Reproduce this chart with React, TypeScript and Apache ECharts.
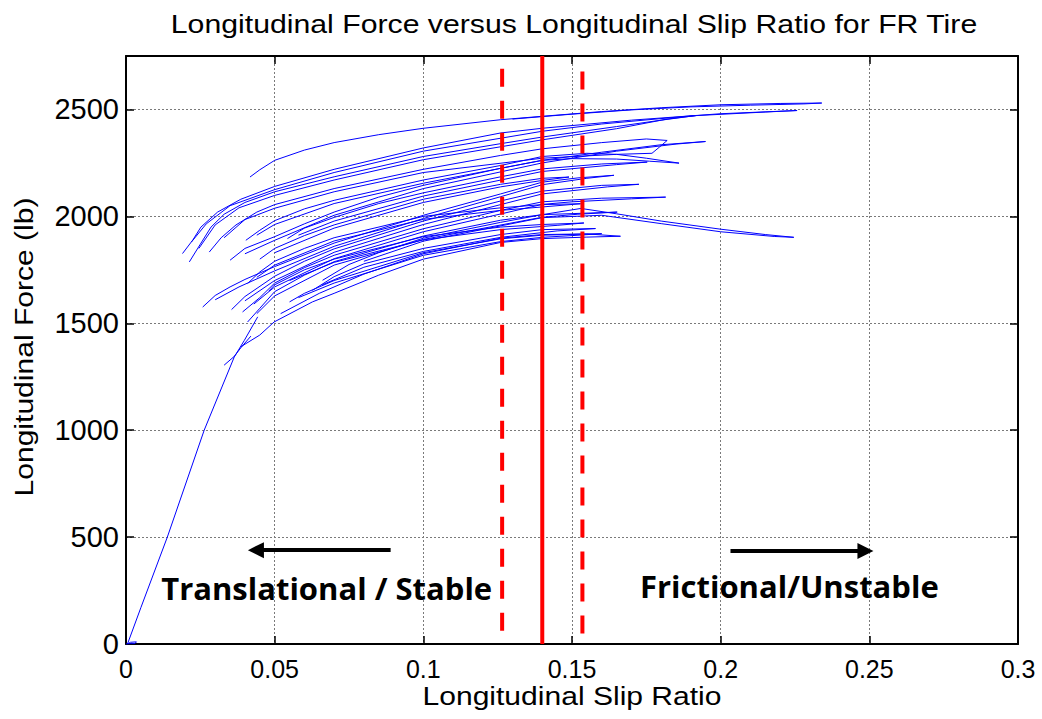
import React, { useEffect, useRef } from "react";
import * as echarts from "echarts";

// ---- axes ----
const xRange = { min: 0, max: 0.3, interval: 0.05 };
const yRange = { min: 0, max: 2750, interval: 500 };

// ---- stability boundaries (slip ratio) ----
const boundaryLow: [number, number][] = [[0.1265, 2690], [0.1265, 0]];
const boundaryPeak: [number, number][] = [[0.14, 2750], [0.14, 0]];
const boundaryHigh: [number, number][] = [[0.1535, 2678], [0.1535, 0]];

// ---- annotation arrows (data coords) ----
const arrowLeft: [number, number][] = [[0.089, 439], [0.0437, 439]];
const arrowRight: [number, number][] = [[0.2033, 435], [0.2487, 435]];
const labelLeft = { text: "Translational / Stable", at: [0.0675, 262] };
const labelRight = { text: "Frictional/Unstable", at: [0.2231, 271] };

// ---- measured tire curves: [slip ratio, longitudinal force lb] ----
const ramp: [number, number][] = [[0, 0], [0.003, 2], [0.0035, 10], [0.0015, 8], [0.0005, 0], [0.005, 170], [0.0139, 500], [0.0263, 1000], [0.0364, 1342], [0.0398, 1420], [0.0443, 1530]];
const branch1300: [number, number][] = [[0.033, 1304], [0.0364, 1345], [0.0386, 1385], [0.042, 1440]];
const loopA: [number, number][] = [[0.0417, 2184], [0.045, 2218], [0.05, 2262], [0.06, 2310], [0.07, 2345], [0.085, 2382], [0.1, 2412], [0.126, 2452], [0.14, 2468], [0.16, 2490], [0.18, 2508], [0.2, 2522], [0.22, 2528], [0.234, 2530], [0.228, 2526], [0.21, 2520], [0.19, 2512], [0.17, 2498], [0.15, 2478], [0.13, 2455]];
const loopB: [number, number][] = [[0.019, 1826], [0.0225, 1890], [0.0252, 1950], [0.0308, 2020], [0.0386, 2080], [0.05, 2140], [0.07, 2220], [0.1, 2320], [0.126, 2390], [0.14, 2412], [0.17, 2450], [0.2, 2480], [0.2257, 2495], [0.215, 2488], [0.19, 2470], [0.16, 2432], [0.14, 2398], [0.1, 2305], [0.07, 2205], [0.05, 2125], [0.035, 2050], [0.027, 1965], [0.022, 1880]];
const loopC: [number, number][] = [[0.0213, 1787], [0.025, 1870], [0.0286, 1950], [0.033, 2010], [0.04, 2065], [0.05, 2115], [0.07, 2185], [0.1, 2280], [0.126, 2340], [0.14, 2371], [0.165, 2420], [0.18, 2450], [0.192, 2472], [0.182, 2455], [0.165, 2410], [0.14, 2358], [0.1, 2265], [0.07, 2170], [0.05, 2098], [0.038, 2040], [0.03, 1960], [0.0245, 1850]];
const loopD: [number, number][] = [[0.028, 1833], [0.032, 1900], [0.037, 1960], [0.044, 2020], [0.05, 2055], [0.07, 2130], [0.1, 2220], [0.126, 2285], [0.14, 2316], [0.16, 2345], [0.175, 2362], [0.182, 2355], [0.1795, 2325], [0.1769, 2295], [0.165, 2290], [0.14, 2272], [0.1, 2205], [0.07, 2115], [0.05, 2038], [0.04, 1985], [0.033, 1900]];
const loopE: [number, number][] = [[0.035, 1795], [0.04, 1850], [0.05, 1905], [0.06, 1965], [0.07, 2020], [0.085, 2090], [0.1, 2145], [0.126, 2225], [0.14, 2262], [0.16, 2300], [0.18, 2335], [0.1949, 2350], [0.185, 2338], [0.165, 2305], [0.14, 2250], [0.1, 2130], [0.07, 2005], [0.05, 1888], [0.04, 1825]];
const loopF: [number, number][] = [[0.0403, 1888], [0.045, 1935], [0.05, 1980], [0.06, 2035], [0.07, 2075], [0.1, 2170], [0.126, 2238], [0.14, 2280], [0.155, 2295], [0.165, 2290], [0.175, 2272], [0.186, 2249], [0.176, 2258], [0.165, 2268], [0.15, 2270], [0.14, 2262], [0.1, 2155], [0.07, 2060], [0.05, 1962], [0.044, 1912]];
const loopG: [number, number][] = [[0.0543, 1896], [0.06, 1945], [0.07, 1995], [0.085, 2060], [0.1, 2110], [0.126, 2185], [0.14, 2222], [0.16, 2245], [0.1753, 2254], [0.165, 2242], [0.14, 2210], [0.1, 2095], [0.07, 1978], [0.058, 1912]];
const loopH: [number, number][] = [[0.0258, 1576], [0.03, 1630], [0.035, 1670], [0.04, 1705], [0.05, 1765], [0.07, 1875], [0.1, 2005], [0.126, 2105], [0.14, 2160], [0.152, 2180], [0.1641, 2192], [0.155, 2178], [0.14, 2148], [0.126, 2092], [0.1, 1990], [0.07, 1860], [0.05, 1745], [0.038, 1670], [0.03, 1610]];
const loopI: [number, number][] = [[0.0355, 1564], [0.04, 1625], [0.05, 1720], [0.06, 1790], [0.07, 1848], [0.1, 1978], [0.126, 2072], [0.14, 2118], [0.16, 2145], [0.1725, 2150], [0.162, 2138], [0.14, 2105], [0.1, 1962], [0.07, 1832], [0.05, 1700], [0.04, 1605]];
const loopJ: [number, number][] = [[0.0392, 1553], [0.045, 1620], [0.05, 1688], [0.06, 1760], [0.07, 1818], [0.1, 1942], [0.126, 2028], [0.14, 2068], [0.16, 2085], [0.1815, 2090], [0.17, 2082], [0.15, 2068], [0.14, 2056], [0.1, 1928], [0.07, 1802], [0.05, 1670], [0.043, 1590]];
const loopK: [number, number][] = [[0.0409, 1506], [0.045, 1570], [0.05, 1648], [0.06, 1725], [0.07, 1788], [0.1, 1908], [0.126, 1982], [0.14, 2008], [0.1652, 2020], [0.152, 2010], [0.14, 1996], [0.1, 1892], [0.07, 1772], [0.05, 1628], [0.044, 1545]];
const loopL: [number, number][] = [[0.0409, 1686], [0.045, 1740], [0.05, 1790], [0.06, 1850], [0.07, 1900], [0.1, 2000], [0.126, 2040], [0.14, 2055], [0.1529, 2059], [0.14, 2044], [0.126, 2028], [0.1, 1986], [0.07, 1885], [0.05, 1772], [0.044, 1715]];
const loopM: [number, number][] = [[0.0627, 1654], [0.07, 1718], [0.08, 1778], [0.1, 1850], [0.126, 1915], [0.14, 1938], [0.1579, 1943], [0.145, 1932], [0.126, 1902], [0.1, 1836], [0.08, 1762], [0.066, 1680]];
const loopN: [number, number][] = [[0.0661, 1701], [0.075, 1775], [0.085, 1830], [0.1, 1898], [0.126, 1972], [0.14, 2008], [0.153, 2037], [0.165, 2012], [0.18, 1978], [0.2, 1940], [0.215, 1915], [0.2246, 1902], [0.218, 1906], [0.2, 1928], [0.18, 1966], [0.16, 2005], [0.14, 1994], [0.1, 1884], [0.08, 1790]];
const loopO: [number, number][] = [[0.0386, 1390], [0.045, 1445], [0.0498, 1506], [0.0627, 1600], [0.07, 1640], [0.085, 1725], [0.1, 1800], [0.126, 1878], [0.14, 1896], [0.155, 1903], [0.1663, 1907], [0.155, 1918], [0.14, 1915], [0.126, 1898], [0.1, 1825], [0.08, 1730], [0.065, 1640], [0.052, 1545]];
const loopP: [number, number][] = [[0.048, 1650], [0.05, 1680], [0.06, 1750], [0.07, 1800], [0.1, 1905], [0.126, 1950], [0.14, 1962], [0.154, 1969], [0.145, 1958], [0.126, 1938], [0.1, 1890], [0.07, 1785], [0.055, 1700]];
const loopQ: [number, number][] = [[0.045, 1800], [0.05, 1850], [0.06, 1910], [0.07, 1960], [0.1, 2080], [0.126, 2150], [0.14, 2178], [0.149, 2184], [0.14, 2168], [0.126, 2138], [0.1, 2065], [0.07, 1945], [0.05, 1830]];
const loopR: [number, number][] = [[0.055, 1600], [0.06, 1640], [0.07, 1700], [0.1, 1830], [0.126, 1895], [0.14, 1912], [0.16, 1919], [0.15, 1910], [0.14, 1902], [0.126, 1882], [0.1, 1818], [0.07, 1688], [0.058, 1620]];

const curves = [ramp, branch1300, loopA, loopB, loopC, loopD, loopE, loopF, loopG, loopH, loopI, loopJ, loopK, loopL, loopM, loopN, loopO, loopP, loopQ, loopR];

const FONT = '"Liberation Sans", Arial, sans-serif';

export default function App() {
  const ref = useRef<HTMLDivElement>(null);
  useEffect(() => {
    document.body.style.margin = "0";
    if (!ref.current) return;
    const chart = echarts.init(ref.current, null, { renderer: "svg" });
    const axisLine = { show: true, onZero: false, lineStyle: { color: "#000", width: 2 } };
    const axisTick = { show: true, inside: true, length: 8, lineStyle: { color: "#000", width: 1.5 } };
    const split = { show: true, lineStyle: { color: "#7a7a7a", width: 1, type: [2, 2] } };
    const blue = curves.map((c) => ({
      type: "line",
      data: c,
      symbol: "none",
      showSymbol: false,
      silent: true,
      lineStyle: { color: "#0000ff", width: 1 },
      z: 2,
    }));
    const red = (d: [number, number][], dashed: boolean) => ({
      type: "line",
      data: d,
      symbol: "none",
      silent: true,
      lineStyle: { color: "#ff0000", width: 4, type: dashed ? [18, 14] : "solid" },
      z: 4,
    });
    chart.setOption({
      animation: false,
      grid: { left: 126, top: 56, width: 892, height: 588, containLabel: false },
      xAxis: [
        {
          type: "value", ...xRange, position: "bottom", axisLine, axisTick,
          axisLabel: { fontSize: 25, fontFamily: FONT, color: "#000", margin: 12 },
          splitLine: split,
        },
        {
          type: "value", ...xRange, position: "top", axisLine, axisTick,
          axisLabel: { show: false }, splitLine: { show: false },
        },
      ],
      yAxis: [
        {
          type: "value", ...yRange, position: "left", axisLine, axisTick,
          axisLabel: {
            fontSize: 29, fontFamily: FONT, color: "#000", margin: 7, showMaxLabel: false,
            formatter: (v: number) => String(v),
          },
          splitLine: split,
        },
        {
          type: "value", ...yRange, position: "right", axisLine, axisTick,
          axisLabel: { show: false }, splitLine: { show: false },
        },
      ],
      series: [
        ...blue,
        red(boundaryLow, true),
        red(boundaryPeak, false),
        red(boundaryHigh, true),
        {
          type: "lines",
          coordinateSystem: "cartesian2d",
          silent: true,
          symbol: ["none", "triangle"],
          symbolSize: 16,
          lineStyle: { color: "#000", width: 4, opacity: 1 },
          data: [{ coords: arrowLeft }, { coords: arrowRight }],
          z: 6,
        },
      ],
    });
    const pL = chart.convertToPixel({ gridIndex: 0 }, labelLeft.at) as number[];
    const pR = chart.convertToPixel({ gridIndex: 0 }, labelRight.at) as number[];
    const txt = (text: string, x: number, y: number, font: string, extra: any = {}) => ({
      type: "text",
      x,
      y,
      silent: true,
      z: 10,
      ...extra,
      style: {
        text, font, fill: "#000",
        align: "center", verticalAlign: "middle",
        textAlign: "center", textVerticalAlign: "middle",
      },
    });
    chart.setOption({
      graphic: [
        txt("Longitudinal Force versus Longitudinal Slip Ratio for FR Tire", 574, 24, `26px ${FONT}`, { scaleX: 1.163 }),
        txt("Longitudinal Slip Ratio", 572, 696, `26px ${FONT}`, { scaleX: 1.156 }),
        txt("Longitudinal Force (lb)", 24, 347, `26px ${FONT}`, { scaleX: 1.156, rotation: Math.PI / 2 }),
        txt(labelLeft.text, pL[0], pL[1], `bold 31px "Open Sans", sans-serif`),
        txt(labelRight.text, pR[0], pR[1], `bold 31px "Open Sans", sans-serif`),
      ],
    });
    return () => chart.dispose();
  }, []);
  return <div ref={ref} style={{ width: 1042, height: 719 }} />;
}
